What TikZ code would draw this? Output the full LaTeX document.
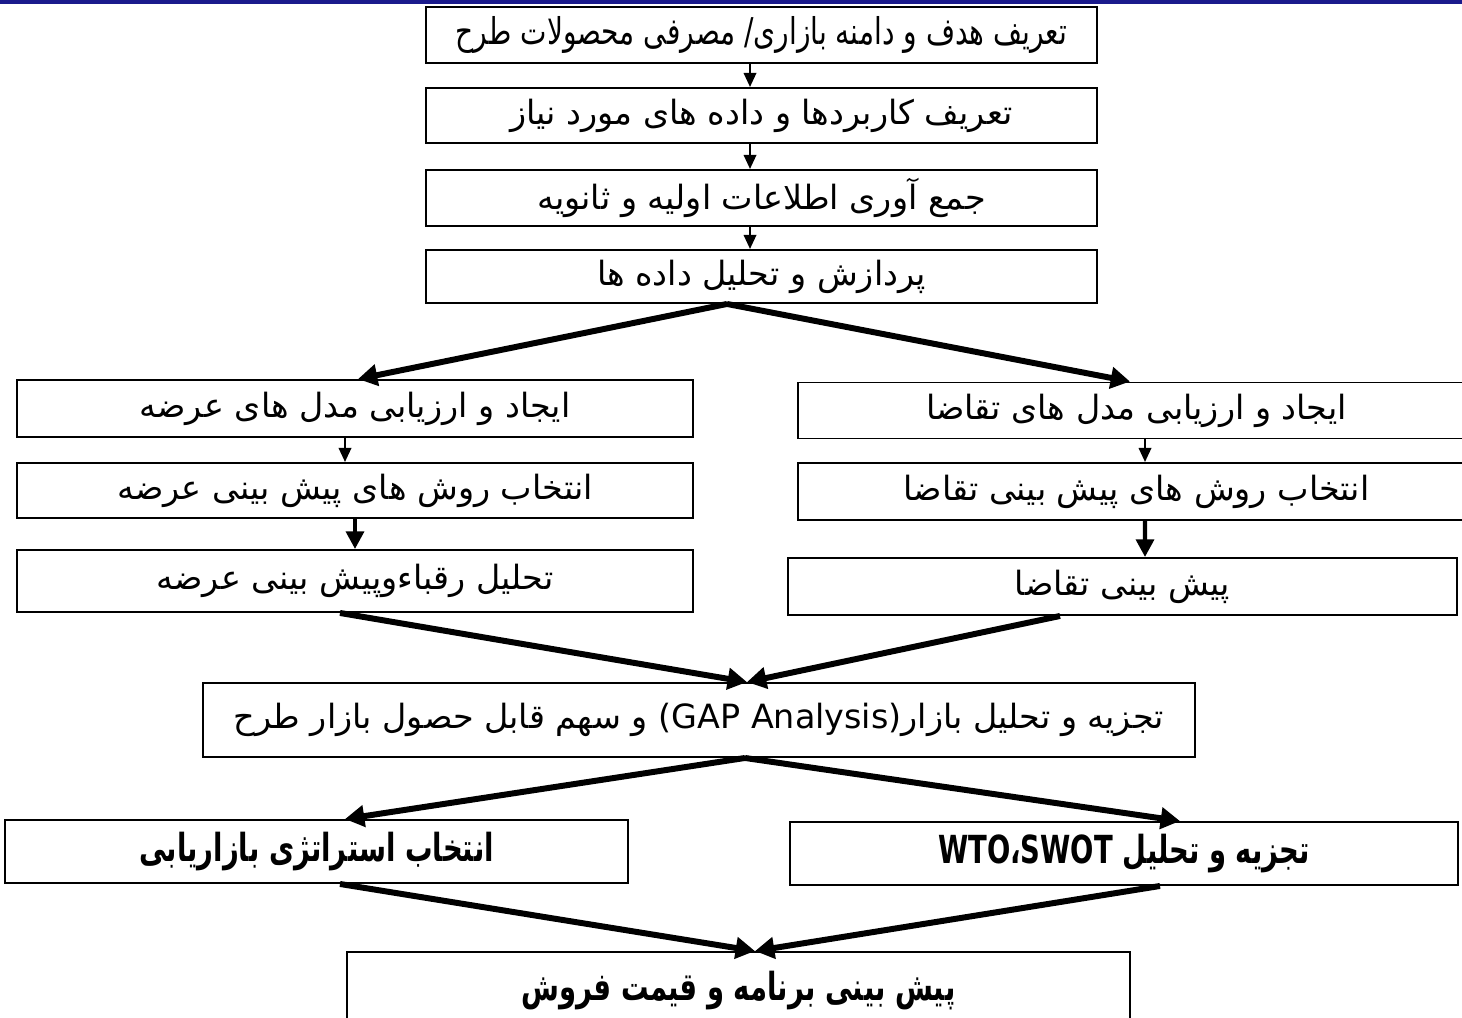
\documentclass[tikz,border=0pt]{standalone}
\usepackage{fontspec}
\usetikzlibrary{arrows.meta}
\TeXXeTstate=1
\newfontfamily\arabicfont[Script=Arabic]{DejaVu Sans}
\newfontfamily\arabicnarrow[Script=Arabic,FakeStretch=0.76]{DejaVu Sans}
\newfontfamily\arabiccond[Script=Arabic,FakeStretch=0.71]{DejaVu Sans Bold}
\definecolor{topblue}{RGB}{26,26,140}
\newcommand{\fa}[1]{\arabicfont\beginR #1\endR}
\newcommand{\fan}[1]{\arabicnarrow\fontsize{21}{24}\selectfont\beginR #1\endR}
\newcommand{\fab}[1]{\arabiccond\fontsize{22}{26}\selectfont\beginR #1\endR}
\begin{document}
\begin{tikzpicture}[x=0.02cm,y=-0.02cm,
  box/.style={draw=black,line width=1.1pt,fill=white,inner sep=0pt,
    font=\arabicfont\fontsize{19}{22}\selectfont},
  thinarrow/.style={line width=1.4pt,-{Triangle[width=7pt,length=8pt]}},
  midarrow/.style={line width=2.4pt,-{Triangle[width=10pt,length=10pt]}},
  thickarrow/.style={line width=3.4pt,-{Triangle[width=12pt,length=11pt]}}]
\useasboundingbox (0,0) rectangle (1462,1017);
\fill[white] (0,0) rectangle (1462,1017);
\fill[topblue] (0,0) rectangle (1462,4);
% top column
\node[box,minimum width=13.42cm,minimum height=1.12cm] (B1) at (761.5,35) {\fan{تعریف هدف و دامنه بازاری/ مصرفی محصولات طرح}};
\node[box,minimum width=13.42cm,minimum height=1.10cm] (B2) at (761.5,115.5) {\fa{تعریف کاربردها و داده های مورد نیاز}};
\node[box,minimum width=13.42cm,minimum height=1.12cm] (B3) at (761.5,198) {\fa{جمع آوری اطلاعات اولیه و ثانویه}};
\node[box,minimum width=13.42cm,minimum height=1.06cm] (B4) at (761.5,276.5) {\fa{پردازش و تحلیل داده ها}};
% left column
\node[box,minimum width=13.52cm,minimum height=1.14cm] (L1) at (355,408.5) {\fa{ایجاد و ارزیابی مدل های عرضه}};
\node[box,minimum width=13.52cm,minimum height=1.10cm] (L2) at (355,490.5) {\fa{انتخاب روش های پیش بینی عرضه}};
\node[box,minimum width=13.52cm,minimum height=1.24cm] (L3) at (355,581) {\fa{تحلیل رقباءوپیش بینی عرضه}};
% right column
\node[box,minimum width=13.54cm,minimum height=1.12cm] (R1) at (1136.5,410.5) {\fa{ایجاد و ارزیابی مدل های تقاضا}};
\node[box,minimum width=13.54cm,minimum height=1.14cm] (R2) at (1136.5,491.5) {\fa{انتخاب روش های پیش بینی تقاضا}};
\node[box,minimum width=13.38cm,minimum height=1.14cm] (R3) at (1122.5,586.5) {\fa{پیش بینی تقاضا}};
% centre
\node[box,minimum width=19.84cm,minimum height=1.48cm] (C) at (699,720) {\fa{تجزیه و تحلیل بازار(\beginL GAP Analysis\endL) و سهم قابل حصول بازار طرح}};
% lower
\node[box,minimum width=12.46cm,minimum height=1.26cm] (BL) at (316.5,851.5) {\fab{انتخاب استراتژی بازاریابی}};
\node[box,minimum width=13.36cm,minimum height=1.26cm] (BR) at (1124,853.5) {\fab{تجزیه و تحلیل \beginL WTO،SWOT\endL}};
\node[box,minimum width=15.66cm,minimum height=1.56cm] (BT) at (738.5,991) {\fab{پیش بینی برنامه و قیمت فروش}};
% arrows
\draw[thinarrow] ([xshift=-0.23cm]B1.south) -- ([xshift=-0.23cm]B2.north);
\draw[thinarrow] ([xshift=-0.23cm]B2.south) -- ([xshift=-0.23cm]B3.north);
\draw[thinarrow] ([xshift=-0.23cm]B3.south) -- ([xshift=-0.23cm]B4.north);
\draw[thickarrow] ([xshift=-0.69cm]B4.south) -- ([xshift=0.06cm]L1.north);
\draw[thickarrow] ([xshift=-0.69cm]B4.south) -- ([xshift=-0.13cm]R1.north);
\draw[thinarrow] ([xshift=-0.2cm]L1.south) -- ([xshift=-0.2cm]L2.north);
\draw[midarrow] (L2.south) -- (L3.north);
\draw[thinarrow] ([xshift=0.17cm]R1.south) -- ([xshift=0.17cm]R2.north);
\draw[midarrow] ([xshift=0.17cm]R2.south) -- ([xshift=0.45cm]R3.north);
\draw[thickarrow] ([xshift=-0.3cm]L3.south) -- ([xshift=0.96cm]C.north);
\draw[thickarrow] ([xshift=-1.25cm]R3.south) -- ([xshift=0.96cm]C.north);
\draw[thickarrow] ([xshift=0.92cm]C.south) -- ([xshift=0.57cm]BL.north);
\draw[thickarrow] ([xshift=0.92cm]C.south) -- ([xshift=1.12cm]BR.north);
\draw[thickarrow] ([xshift=0.47cm]BL.south) -- ([xshift=0.33cm]BT.north);
\draw[thickarrow] ([xshift=0.72cm]BR.south) -- ([xshift=0.33cm]BT.north);
\end{tikzpicture}
\end{document}
